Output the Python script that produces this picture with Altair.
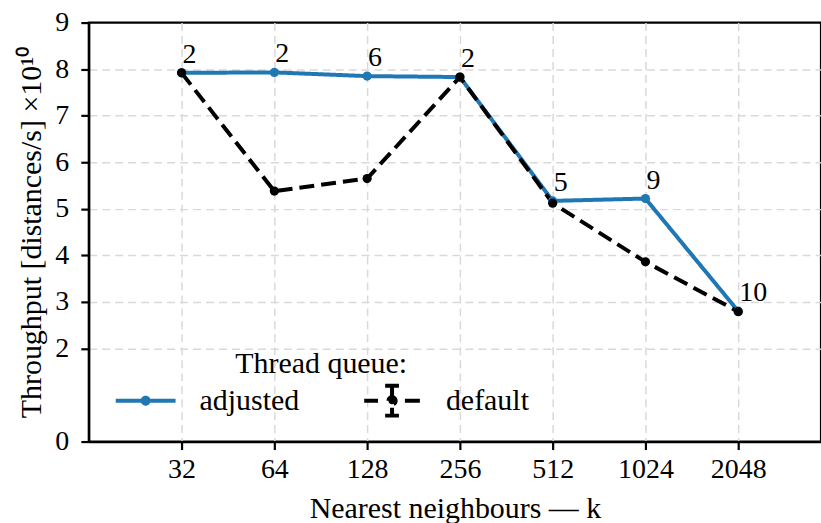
import altair as alt
import pandas as pd
import math

k_values = [32, 64, 128, 256, 512, 1024, 2048]
adjusted = [7.92, 7.93, 7.85, 7.83, 5.17, 5.22, 2.80]
default = [7.92, 5.38, 5.65, 7.83, 5.12, 3.86, 2.79]
annotations = ["2", "2", "6", "2", "5", "9", "10"]
series = ["adjusted", "default"]

rows = []
for k, a, d, t in zip(k_values, adjusted, default, annotations):
    lk = math.log2(k)
    rows.append({"lk": lk, "k": k, "queue": "adjusted", "value": a, "note": t})
    rows.append({"lk": lk, "k": k, "queue": "default", "value": d, "note": ""})
df = pd.DataFrame(rows)

FONT = "Liberation Serif"
FS = 28
TFS = 30

adj_path = "M0,-0.5M0,0.5M-1,0H1M-0.1,0A0.1,0.1,0,1,1,0.1,0A0.1,0.1,0,1,1,-0.1,0"
def_path = ("M-0.93,0H-0.47M0.43,0H0.93M0,-0.5V0.5M-0.23,-0.5H0.23M-0.23,0.5H0.23"
            "M-0.12,0A0.12,0.12,0,1,1,0.12,0A0.12,0.12,0,1,1,-0.12,0")

color_scale = alt.Scale(domain=series, range=["#1f77b4", "#000000"])

legend = alt.Legend(
    title="Thread queue:", orient="none", legendX=25, legendY=327,
    direction="horizontal", titleOrient="top", titleAnchor="middle",
    titleFont=FONT, titleFontSize=TFS, titleFontWeight="normal", titleColor="black",
    labelFont=FONT, labelFontSize=TFS, labelColor="black",
    symbolSize=3600, symbolStrokeWidth=4,
    symbolType={"expr": f"datum.value === 'default' ? '{def_path}' : '{adj_path}'"},
    labelOffset=22, columnPadding=57, padding=0, titlePadding=-10,
)

x = alt.X("lk:Q", scale=alt.Scale(domain=[4, 11.892], nice=False, zero=False),
          axis=alt.Axis(values=[5, 6, 7, 8, 9, 10, 11],
                        labelExpr="format(pow(2, datum.value), 'd')",
                        title="Nearest neighbours — k", titlePadding=10))
y = alt.Y("value:Q", scale=alt.Scale(domain=[0, 9], nice=False),
          axis=alt.Axis(values=[0, 2, 3, 4, 5, 6, 7, 8, 9],
                        gridOpacity={"condition": {"test": "datum.value >= 9 || datum.value <= 0", "value": 0}, "value": 1},
                        title="Throughput [distances/s] ×10¹⁰", titlePadding=8))

base = alt.Chart(df)

lines = base.mark_line(strokeWidth=4, clip=True).encode(
    x=x, y=y,
    color=alt.Color("queue:N", scale=color_scale, legend=legend),
    strokeDash=alt.StrokeDash("queue:N", scale=alt.Scale(domain=series, range=[[1, 0], [15, 7]]), legend=None),
    order=alt.Order("lk:Q"),
)
points = base.mark_point(filled=True, size=85, opacity=1, clip=True).encode(
    x=x, y=y,
    fill=alt.Fill("queue:N", scale=color_scale, legend=None),
    stroke=alt.value(None),
)
texts = base.transform_filter(alt.datum.queue == "adjusted").mark_text(
    align="left", baseline="alphabetic", dx=1, dy=-10, font=FONT, fontSize=FS, color="black"
).encode(x=x, y=y, text="note:N")

chart = alt.layer(lines, points, texts).properties(
    width=734, height=420,
    autosize=alt.AutoSizeParams(type="none"),
    padding={"left": 89, "top": 22, "right": 0, "bottom": 81},
).configure_view(stroke="black", strokeWidth=2.2).configure_axis(
    labelFont=FONT, labelFontSize=FS, labelColor="black",
    titleFont=FONT, titleFontSize=TFS, titleFontWeight="normal", titleColor="black",
    domainColor="black", domainWidth=2.2, tickColor="black", tickWidth=2.2, tickSize=8,
    labelPadding=6, grid=True, gridColor="#d9d9d9", gridDash=[8, 5], gridWidth=1.5,
).configure_axisY(labelPadding=12)

chart.save("out.html", embed_options={"renderer": "svg", "actions": False})
